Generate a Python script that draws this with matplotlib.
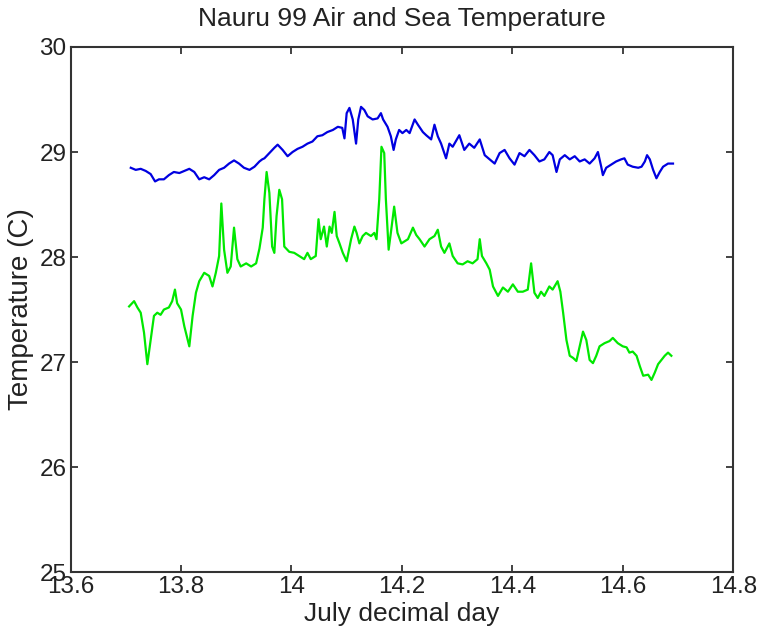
import matplotlib
matplotlib.use("Agg")
import matplotlib.pyplot as plt

# sea temperature (upper, blue)
sea_day = [13.709, 13.718, 13.727, 13.736, 13.745, 13.753, 13.760, 13.769, 13.778, 13.787,
           13.797, 13.806, 13.815, 13.824, 13.833, 13.842, 13.851, 13.860, 13.869, 13.878,
           13.887, 13.896, 13.905, 13.914, 13.924, 13.933, 13.942, 13.947, 13.951, 13.960,
           13.969, 13.975, 13.984, 13.993, 14.002, 14.011, 14.020, 14.029, 14.038, 14.047,
           14.056, 14.065, 14.075, 14.084, 14.092, 14.096, 14.100, 14.105, 14.111, 14.117,
           14.121, 14.126, 14.132, 14.138, 14.147, 14.156, 14.162, 14.166, 14.174, 14.180,
           14.185, 14.189, 14.195, 14.201, 14.208, 14.214, 14.223, 14.229, 14.238, 14.244,
           14.253, 14.259, 14.265, 14.271, 14.280, 14.286, 14.292, 14.304, 14.313, 14.322,
           14.331, 14.341, 14.350, 14.359, 14.368, 14.377, 14.386, 14.395, 14.404, 14.413,
           14.422, 14.431, 14.440, 14.449, 14.458, 14.467, 14.473, 14.480, 14.486, 14.495,
           14.504, 14.513, 14.522, 14.531, 14.540, 14.549, 14.555, 14.561, 14.564, 14.570,
           14.579, 14.588, 14.597, 14.603, 14.609, 14.618, 14.628, 14.634, 14.640, 14.644,
           14.649, 14.655, 14.661, 14.667, 14.673, 14.682, 14.691]
sea_temp = [28.85, 28.83, 28.84, 28.82, 28.79, 28.72, 28.74, 28.74, 28.78, 28.81,
            28.80, 28.82, 28.84, 28.81, 28.74, 28.76, 28.74, 28.78, 28.83, 28.85,
            28.89, 28.92, 28.89, 28.85, 28.83, 28.86, 28.91, 28.93, 28.94, 28.99,
            29.04, 29.07, 29.02, 28.96, 29.00, 29.03, 29.05, 29.08, 29.10, 29.15,
            29.16, 29.19, 29.21, 29.24, 29.23, 29.13, 29.37, 29.42, 29.31, 29.08,
            29.31, 29.43, 29.40, 29.34, 29.31, 29.32, 29.37, 29.31, 29.24, 29.15,
            29.02, 29.12, 29.21, 29.18, 29.21, 29.18, 29.31, 29.26, 29.19, 29.16,
            29.12, 29.26, 29.15, 29.08, 28.94, 29.08, 29.05, 29.16, 29.02, 29.08,
            29.04, 29.12, 28.97, 28.93, 28.89, 28.99, 29.02, 28.94, 28.88, 28.99,
            28.96, 29.02, 28.97, 28.91, 28.93, 29.00, 28.97, 28.81, 28.93, 28.97,
            28.93, 28.96, 28.91, 28.93, 28.89, 28.94, 29.00, 28.86, 28.78, 28.85,
            28.88, 28.91, 28.93, 28.94, 28.88, 28.86, 28.85, 28.86, 28.91, 28.97,
            28.93, 28.83, 28.75, 28.81, 28.86, 28.89, 28.89]

# air temperature (lower, green)
air_day = [13.706, 13.715, 13.721, 13.727, 13.733, 13.739, 13.745, 13.751, 13.757, 13.763,
           13.769, 13.778, 13.784, 13.789, 13.793, 13.800, 13.806, 13.815, 13.821, 13.827,
           13.833, 13.842, 13.851, 13.857, 13.863, 13.869, 13.873, 13.878, 13.884, 13.890,
           13.896, 13.902, 13.908, 13.918, 13.927, 13.936, 13.942, 13.948, 13.951, 13.955,
           13.960, 13.965, 13.969, 13.973, 13.978, 13.983, 13.987, 13.996, 14.005, 14.014,
           14.023, 14.029, 14.035, 14.044, 14.049, 14.053, 14.059, 14.064, 14.069, 14.073,
           14.078, 14.082, 14.087, 14.093, 14.100, 14.108, 14.114, 14.118, 14.123, 14.129,
           14.135, 14.144, 14.150, 14.154, 14.159, 14.163, 14.168, 14.171, 14.176, 14.180,
           14.186, 14.192, 14.199, 14.205, 14.211, 14.220, 14.226, 14.232, 14.241, 14.250,
           14.259, 14.265, 14.271, 14.277, 14.286, 14.292, 14.301, 14.310, 14.319, 14.328,
           14.337, 14.341, 14.345, 14.353, 14.359, 14.365, 14.374, 14.383, 14.392, 14.401,
           14.410, 14.419, 14.428, 14.434, 14.440, 14.446, 14.452, 14.458, 14.467, 14.473,
           14.482, 14.487, 14.492, 14.498, 14.504, 14.510, 14.516, 14.522, 14.528, 14.534,
           14.540, 14.546, 14.552, 14.558, 14.567, 14.576, 14.582, 14.591, 14.600, 14.607,
           14.612, 14.618, 14.625, 14.631, 14.637, 14.646, 14.652, 14.658, 14.664, 14.670,
           14.676, 14.682, 14.688]
air_temp = [27.53, 27.58, 27.52, 27.47, 27.28, 26.98, 27.21, 27.44, 27.47, 27.45,
            27.50, 27.52, 27.58, 27.69, 27.56, 27.50, 27.34, 27.15, 27.44, 27.66,
            27.77, 27.85, 27.82, 27.72, 27.85, 28.01, 28.51, 28.07, 27.85, 27.91,
            28.28, 27.98, 27.91, 27.94, 27.91, 27.94, 28.08, 28.28, 28.55, 28.81,
            28.61, 28.10, 28.04, 28.39, 28.64, 28.55, 28.10, 28.05, 28.04, 28.01,
            27.98, 28.04, 27.98, 28.01, 28.36, 28.17, 28.29, 28.10, 28.29, 28.23,
            28.43, 28.20, 28.13, 28.04, 27.96, 28.17, 28.29, 28.23, 28.13, 28.20,
            28.23, 28.20, 28.23, 28.17, 28.55, 29.05, 28.99, 28.55, 28.07, 28.23,
            28.48, 28.23, 28.13, 28.15, 28.17, 28.28, 28.21, 28.17, 28.10, 28.17,
            28.20, 28.26, 28.10, 28.04, 28.13, 28.01, 27.94, 27.93, 27.96, 27.94,
            27.98, 28.17, 28.01, 27.94, 27.88, 27.72, 27.63, 27.71, 27.67, 27.74,
            27.67, 27.67, 27.69, 27.94, 27.66, 27.61, 27.67, 27.63, 27.72, 27.69,
            27.77, 27.67, 27.47, 27.21, 27.06, 27.04, 27.01, 27.15, 27.29, 27.21,
            27.02, 26.99, 27.06, 27.15, 27.18, 27.20, 27.23, 27.18, 27.15, 27.14,
            27.09, 27.10, 27.06, 26.96, 26.87, 26.88, 26.83, 26.90, 26.98, 27.02,
            27.06, 27.09, 27.06]

x_ticks = [13.6, 13.8, 14.0, 14.2, 14.4, 14.6, 14.8]
x_labels = ["13.6", "13.8", "14", "14.2", "14.4", "14.6", "14.8"]
y_ticks = [25, 26, 27, 28, 29, 30]

plt.rcParams["font.family"] = ["Liberation Sans", "DejaVu Sans"]

fig = plt.figure(figsize=(7.59, 6.35), dpi=100)
ax = fig.add_axes([0.093, 0.099, 0.873, 0.827])

ax.plot(sea_day, sea_temp, color="#0000e0", lw=1.6)
ax.plot(air_day, air_temp, color="#00e800", lw=1.6)

ax.set_xlim(13.6, 14.8)
ax.set_ylim(25, 30)
ax.set_xticks(x_ticks)
ax.set_xticklabels(x_labels)
ax.set_yticks(y_ticks)
ax.tick_params(direction="in", length=5, width=1.2, labelsize=17.5, pad=3,
               top=True, right=True, colors="#222222")
for s in ax.spines.values():
    s.set_linewidth(1.5)
    s.set_color("#333333")

ax.set_title("Nauru 99 Air and Sea Temperature", fontsize=19, pad=15, color="#222222")
ax.set_xlabel("July decimal day", fontsize=19, labelpad=3, color="#222222")
ax.set_ylabel("Temperature (C)", fontsize=20, labelpad=4, color="#222222")

fig.savefig("out.png", dpi=100)
